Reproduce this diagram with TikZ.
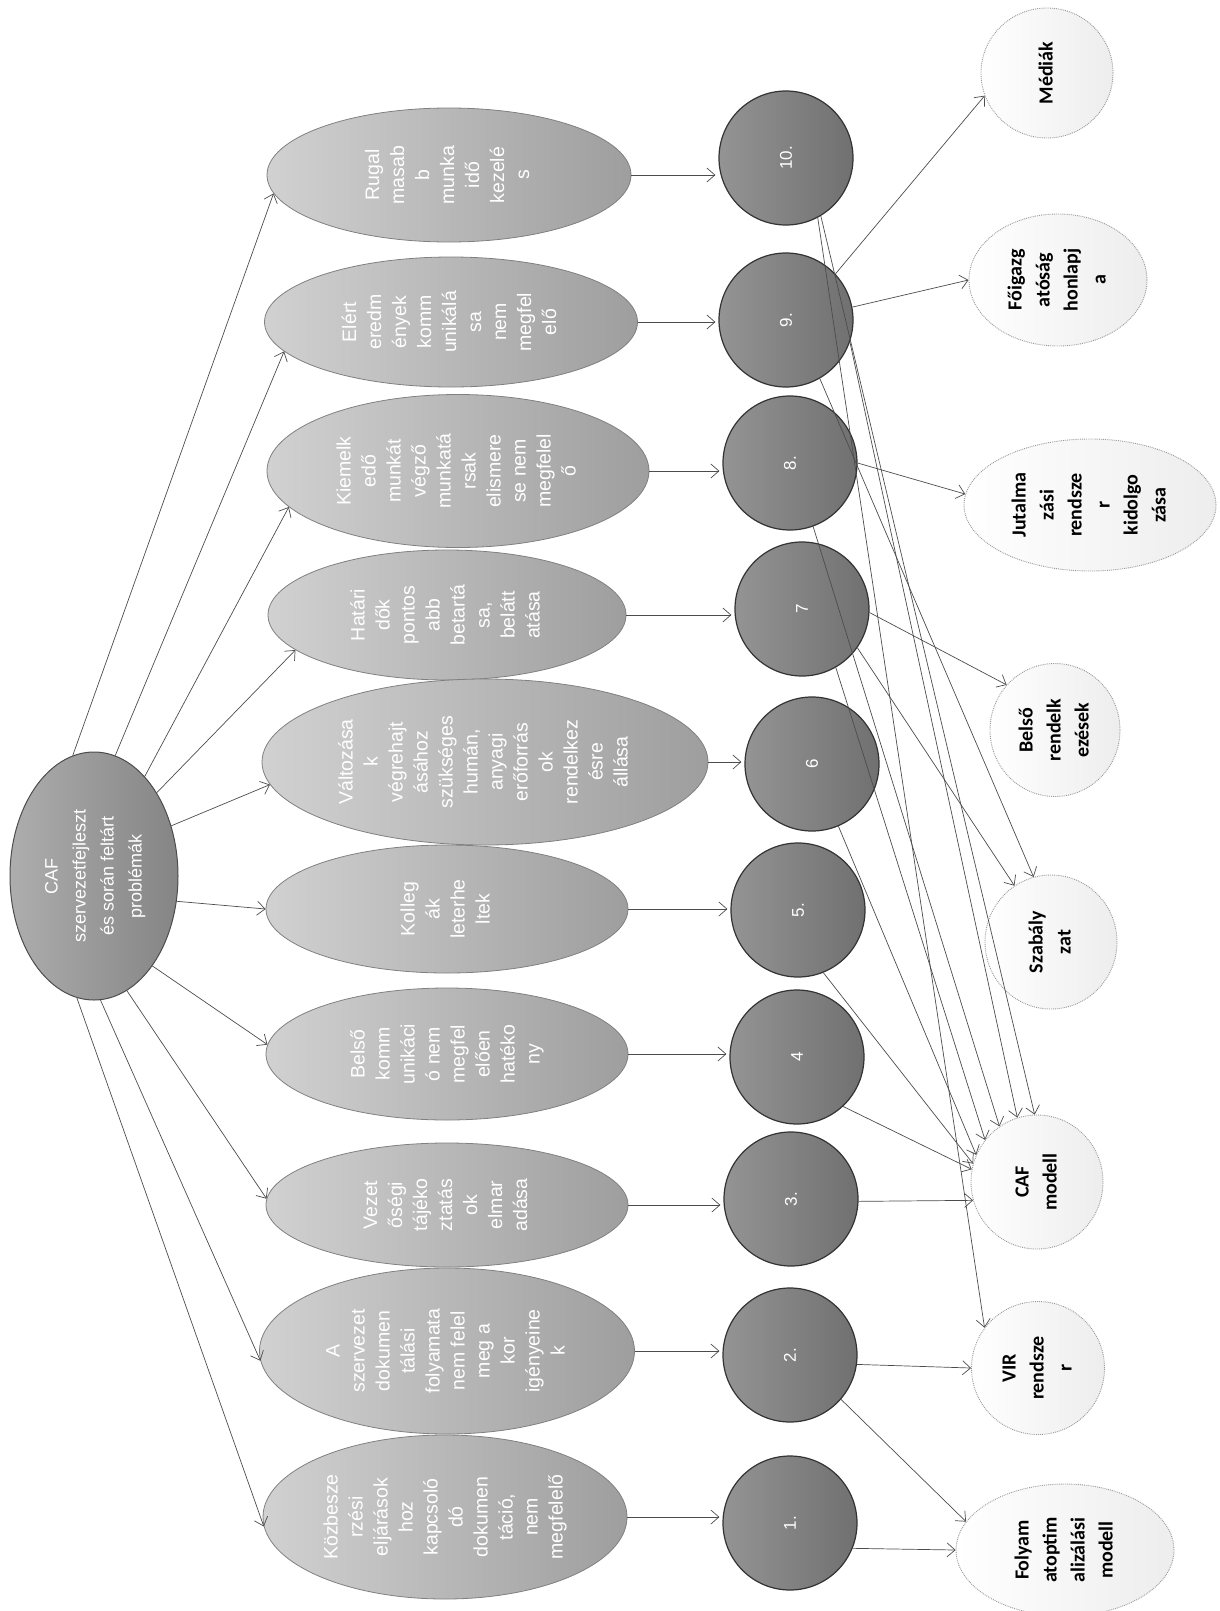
\documentclass[tikz,border=0pt]{standalone}
\usepackage{fontspec}
\setmainfont{Liberation Sans}
\newfontfamily\calibfont{Carlito}
\usetikzlibrary{shapes.geometric,arrows.meta}
\newcommand\rotlines[1]{\rotatebox{90}{\begin{tabular}{@{}c@{}}#1\end{tabular}}}
\begin{document}
\begin{tikzpicture}[x=1pt,y=-1pt,
  rootbox/.style={ellipse, draw=black!70, line width=1pt, left color=black!32, right color=black!48, text=white, inner sep=0pt, minimum width=168pt, minimum height=248pt, font=\fontsize{18}{28}\selectfont},
  prob/.style={ellipse, draw=black!50, line width=0.8pt, left color=black!18, right color=black!38, text=white, inner sep=0pt, font=\fontsize{19.5}{25}\selectfont},
  num/.style={circle, draw=black!80, line width=1.2pt, left color=black!42, right color=black!56, text=white, inner sep=0pt, minimum size=134pt, font=\fontsize{17}{20}\selectfont},
  res/.style={ellipse, draw=black!40, densely dotted, line width=0.9pt, left color=white, right color=black!7, inner sep=0pt, minimum height=132pt, font=\calibfont\bfseries\fontsize{20}{28}\selectfont},
  conn/.style={draw=black!70, line width=0.7pt, -{Straight Barb[length=8pt,width=14pt]}}
]
\useasboundingbox (0,0) rectangle (1219,1611);

% root
\node[rootbox] (root) at (94,876) {\rotlines{CAF\\szervezetfejleszt\\és során feltárt\\problémák}};

% problem ellipses
\node[prob, minimum width=364pt, minimum height=134pt] (e10) at (449,175) {\rotlines{Rugal\\masab\\b\\munka\\idő\\kezelé\\s}};
\node[prob, minimum width=373pt, minimum height=130pt] (e9) at (451,322) {\rotlines{Elért\\eredm\\ények\\komm\\unikálá\\sa\\nem\\megfel\\elő}};
\node[prob, minimum width=382pt, minimum height=153pt] (e8) at (458,471) {\rotlines{Kiemelk\\edő\\munkát\\végző\\munkatá\\rsak\\elismere\\se nem\\megfelel\\ő}};
\node[prob, minimum width=358pt, minimum height=130pt] (e7) at (447,615) {\rotlines{Határi\\dők\\pontos\\abb\\betartá\\sa,\\belátt\\atása}};
\node[prob, minimum width=446pt, minimum height=166pt] (e6) at (485,762) {\rotlines{Változása\\k\\végrehajt\\ásához\\szükséges\\humán,\\anyagi\\erőforrás\\ok\\rendelkez\\ésre\\állása}};
\node[prob, minimum width=362pt, minimum height=128pt] (e5) at (447,909) {\rotlines{Kolleg\\ák\\leterhe\\ltek}};
\node[prob, minimum width=362pt, minimum height=132pt] (e4) at (447,1054) {\rotlines{Belső\\komm\\unikáci\\ó nem\\megfel\\elően\\hatéko\\ny}};
\node[prob, minimum width=362pt, minimum height=124pt] (e3) at (447,1205) {\rotlines{Vezet\\őségi\\tájéko\\ztatás\\ok\\elmar\\adása}};
\node[prob, minimum width=375pt, minimum height=166pt] (e2) at (447,1351) {\rotlines{A\\szervezet\\dokumen\\tálási\\folyamata\\nem felel\\meg a\\kor\\igényeine\\k}};
\node[prob, minimum width=364pt, minimum height=164pt] (e1) at (445,1517) {\rotlines{Közbesze\\rzési\\eljárások\\hoz\\kapcsoló\\dó\\dokumen\\táció,\\nem\\megfelelő}};

% numbered circles
\node[num] (c10) at (786,158) {\rotatebox{90}{10.}};
\node[num] (c9) at (786,320) {\rotatebox{90}{9.}};
\node[num] (c8) at (790,463) {\rotatebox{90}{8.}};
\node[num] (c7) at (802,609) {\rotatebox{90}{7}};
\node[num] (c6) at (812,764) {\rotatebox{90}{6}};
\node[num] (c5) at (798,910) {\rotatebox{90}{5.}};
\node[num] (c4) at (797,1057) {\rotatebox{90}{4}};
\node[num] (c3) at (791,1199) {\rotatebox{90}{3.}};
\node[num] (c2) at (790,1355) {\rotatebox{90}{2.}};
\node[num] (c1) at (790,1523) {\rotatebox{90}{1.}};

% result ellipses
\node[res, minimum width=132pt, minimum height=130pt] (med) at (1047,73) {\rotlines{Médiák}};
\node[res, minimum width=178pt] (foi) at (1058,280) {\rotlines{Főigazg\\atóság\\honlapj\\a}};
\node[res, minimum width=252pt] (jut) at (1090,505) {\rotlines{Jutalma\\zási\\rendsze\\r\\kidolgo\\zása}};
\node[res, minimum width=130pt, minimum height=133pt] (bel) at (1055,730) {\rotlines{Belső\\rendelk\\ezések}};
\node[res, minimum width=132pt, minimum height=134pt] (szab) at (1051,942) {\rotlines{Szabály\\zat}};
\node[res, minimum width=132pt, minimum height=134pt] (caf) at (1037,1182) {\rotlines{CAF\\modell}};
\node[res, minimum width=133pt, minimum height=133pt] (vir) at (1038,1368) {\rotlines{VIR\\rendsze\\r}};
\node[res, minimum width=218pt] (fol) at (1065,1550) {\rotlines{Folyam\\atoptim\\alizálási\\modell}};

% root -> problems
\draw[conn] (root.100) -- (e10.186);
\draw[conn] (root.80) -- (e9.190);
\draw[conn] (root.63) -- (e8.192);
\draw[conn] (root.53) -- (e7.193);
\draw[conn] (root.33) -- (e6.186);
\draw[conn] (root.-17) -- (e5.180);
\draw[conn] (root.-57) -- (e4.177);
\draw[conn] (root.-74) -- (e3.178);
\draw[conn] (root.-87) -- (e2.183);
\draw[conn] (root.-98) -- (e1.183);

% problems -> numbers
\foreach \i in {1,...,10}{
  \draw[conn, shorten >=3pt] (e\i.east) -- (c\i.west |- e\i.east);
}

% numbers -> results
\draw[conn] (c9.43) -- (med.200);
\draw[conn] (c9.11) -- (foi.west);
\draw[conn] (c8.0) -- (jut.175);
\draw[conn] (c7.-3) -- (bel.137);
\draw[conn] (c7.-35) -- (szab.123);
\draw[conn] (c9.-60) -- (szab.105);
\draw[conn] (c10.-59) -- (caf.92);
\draw[conn] (c10.-62) -- (vir.143);
\draw[conn] (c9.-19) -- (caf.107);
\draw[conn] (c8.-70) -- (caf.124);
\draw[conn] (c7.-60) -- (caf.141);
\draw[conn] (c6.-67) -- (caf.156);
\draw[conn] (c5.-68) -- (caf.164);
\draw[conn] (c4.-47) -- (caf.169);
\draw[conn] (c3.-2) -- (caf.196);
\draw[conn] (c2.-8) -- (vir.west);
\draw[conn] (c2.-41) -- (fol.164);
\draw[conn] (c1.-22) -- (fol.west);
\end{tikzpicture}
\end{document}
